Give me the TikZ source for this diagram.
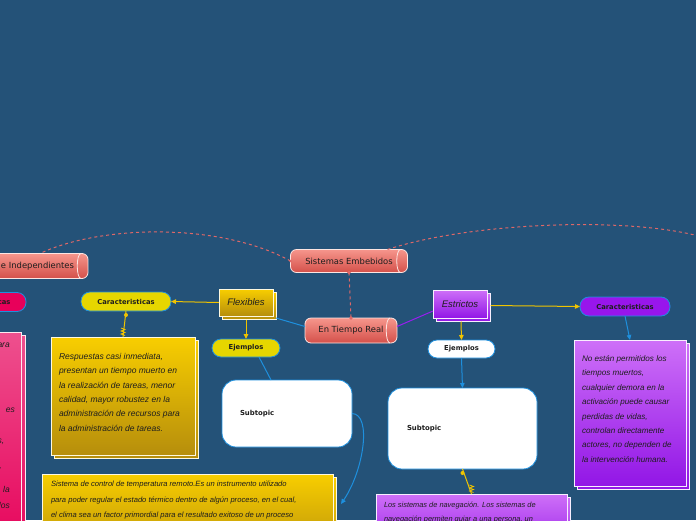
\documentclass[tikz,border=0pt]{standalone}
\usepackage{fontspec}
\setmainfont{DejaVu Sans}
\newfontfamily\hand{Liberation Sans}
\usetikzlibrary{arrows.meta,calc}
\definecolor{bgc}{RGB}{36,82,120}
\definecolor{salT}{RGB}{246,150,140}
\definecolor{salB}{RGB}{212,80,74}
\definecolor{golT}{RGB}{248,206,0}
\definecolor{golB}{RGB}{182,142,12}
\definecolor{purT}{RGB}{206,112,248}
\definecolor{purB}{RGB}{146,22,230}
\definecolor{pinkT}{RGB}{238,80,142}
\definecolor{pinkB}{RGB}{230,0,88}
\definecolor{lblue}{RGB}{30,144,222}
\definecolor{lyel}{RGB}{240,196,0}
\definecolor{lpur}{RGB}{152,30,240}
\definecolor{dsal}{RGB}{222,104,104}
\definecolor{pillY}{RGB}{230,214,0}
\definecolor{pillP}{RGB}{152,22,236}
\definecolor{pillK}{RGB}{232,0,90}
\definecolor{ink}{RGB}{30,30,30}
\newcommand\shad[5]{\path[#1] (#2+3.5,#3+3.5) rectangle (#4+3.5,#5+3.5);}
\begin{document}
\begin{tikzpicture}[x=1pt,y=-1pt,
  every node/.style={inner sep=0pt, outer sep=0pt},
  cyl/.style={draw=white!75!salT, line width=0.8pt, rounded corners=6pt, top color=salT, bottom color=salB, minimum height=23pt, font=\fontsize{8.4}{10}\selectfont, text=ink},
  cylarc/.style={draw=white!75!salT, line width=0.8pt},
  yshad/.style={top color=golT, bottom color=golB, draw=white!88!golT, line width=1pt},
  pshad/.style={top color=purT, bottom color=purB, draw=white!88!purT, line width=1pt},
  kshad/.style={top color=pinkT, bottom color=pinkB, draw=white!88!pinkT, line width=1pt},
  tabtxt/.style={font=\hand\itshape\fontsize{9.5}{11}\selectfont, text=ink},
  pill/.style={draw=lblue, line width=0.8pt, rounded corners=9pt, minimum width=90pt, minimum height=19pt, font=\bfseries\fontsize{6.8}{8}\selectfont, text=ink},
  sub/.style={draw=lblue, line width=0.8pt, fill=white, rounded corners=14pt, font=\bfseries\fontsize{6.9}{8}\selectfont, text=ink, align=left},
  notetxt/.style={font=\hand\itshape\fontsize{8.5}{14.3}\selectfont, align=left, text=ink},
  dsl/.style={draw=dsal, line width=1pt, dash pattern=on 3pt off 3pt},
  yline/.style={draw=lyel, line width=1pt},
  bline/.style={draw=lblue, line width=1pt},
  tip/.style={-{Triangle[length=5pt,width=4.5pt]}}
]
\fill[bgc] (0,0) rectangle (696,520);
\useasboundingbox (0,0) rectangle (696,520);

% ---------- main nodes ----------
\node[cyl, minimum width=117pt] (se) at (349,261) {Sistemas Embebidos};
\node[cyl, anchor=east, text width=118pt, align=right, inner xsep=14pt, minimum height=25pt] (ind) at (88,266) {e Independientes};
\node[cyl, minimum width=92pt, minimum height=25pt] (etr) at (351,330.5) {En Tiempo Real};

\coordinate (rend) at (712,240);

% ---------- connectors (behind) ----------
\draw[dsl] (se.west) .. controls (220,222) and (100,225) .. ($(ind.north east)+(-48,0)$);
\draw[dsl] ($(se.north east)+(-20,0)$) .. controls (470,222) and (640,215) .. (rend);
\draw[dsl] (se.south) -- (etr.north);

\coordinate (flexsw) at (219,289);
\coordinate (estrsw) at (433,290);

% shadows of tab boxes
\shad{yshad}{219}{289}{273}{316}
\shad{pshad}{433}{290}{487}{318}
\node[yshad, tabtxt, anchor=north west, minimum width=54pt, minimum height=27pt] (flex) at (flexsw) {Flexibles};
\node[pshad, tabtxt, anchor=north west, minimum width=54pt, minimum height=28pt] (estr) at (estrsw) {Estrictos};

\node[pill, fill=pillY] (car1) at (126,301.5) {Caracteristicas};
\node[pill, fill=pillP] (car2) at (625,306.5) {Caracteristicas};
\node[pill, fill=pillK, minimum width=66pt] (carK) at (-7,302) {};
\node[font=\bfseries\fontsize{6.8}{8}\selectfont, text=ink, anchor=east] (carKt) at (10.5,302.5) {cas};

\node[pill, fill=pillY, minimum width=68pt, minimum height=18pt] (ej1) at (246,348) {Ejemplos};
\node[pill, fill=white, minimum width=67pt, minimum height=18pt] (ej2) at (461.5,349) {Ejemplos};

\node[sub, minimum width=130pt, minimum height=67pt, text width=94pt, inner xsep=18pt] (sub1) at (287,413.5) {Subtopic};
\node[sub, minimum width=149pt, minimum height=81pt, text width=111pt, inner xsep=19pt] (sub2) at (462.5,428.5) {Subtopic};

% note boxes
\shad{kshad}{-20}{332}{21.5}{560}
\node[kshad, anchor=north west, minimum width=41.5pt, minimum height=228pt] (knote) at (-20,332) {};
\shad{yshad}{51}{337}{195}{455}
\node[yshad, anchor=north west, minimum width=144pt, minimum height=118pt] (ynote) at (51,337) {};
\shad{pshad}{574}{340}{686}{486}
\node[pshad, anchor=north west, minimum width=112pt, minimum height=146pt] (pnote) at (574,340) {};
\shad{yshad}{42}{474}{333}{560}
\node[yshad, anchor=north west, minimum width=291pt, minimum height=86pt] (bigy) at (42,474) {};
\shad{pshad}{376}{494}{567}{560}
\node[pshad, anchor=north west, minimum width=191pt, minimum height=66pt] (pbot) at (376,494) {};

% ---------- connectors ----------
\draw[bline] ($(flex.south east)+(3,2)$) -- ($(etr.west)+(0,-4)$);
\draw[draw=lpur, line width=1pt] ($(etr.east)+(0,-4)$) -- ($(estr.west)!0.5!(estr.south west)$);
\draw[yline, tip] (flex.west) -- (car1.east);
\draw[yline, tip] ($(flex.south)+(0,3.5)$) -- (ej1.north);
\draw[yline, tip] ($(estr.east)+(3.5,1.5)$) -- (car2.west);
\draw[yline, tip] ($(estr.south)+(1,3.5)$) -- (ej2.north);
\draw[bline, tip] (car2.south) -- (pnote.north);
\draw[bline, tip] (ej2.south) -- (sub2.north);
\draw[bline] ($(ej1.south)+(13,0)$) -- ($(sub1.north)+(-16,0)$);
\coordinate (tipA) at (341,504);
\draw[bline, tip] (sub1.east) .. controls (372,414) and (364,470) .. (tipA);
\draw[yline] (car1.south) -- (ynote.north);
\draw[yline] (sub2.south) -- (pbot.north);

% small end marks
\fill[dsal] (se.south) circle (1.8);
\fill[dsal] (etr.north) circle (1.8);
\fill[dsal] (se.west) circle (1.3);
\fill[lyel] ($(car1.south)+(0,4)$) circle (2);
\fill[lyel] ($(sub2.south)+(0,4)$) circle (2);
\draw[lyel, line width=0.8pt] ($(ynote.north)+(-2,-9)$) -- ++(4,1.5) -- ++(-4,1.5) -- ++(4,1.5) -- ++(-4,1.5) -- ++(4,1.5);
\draw[lyel, line width=0.8pt] ($(pbot.north)+(-2,-9)$) -- ++(4,1.5) -- ++(-4,1.5) -- ++(4,1.5) -- ++(-4,1.5) -- ++(4,1.5);

% cylinder end arcs
\foreach \n in {se,ind,etr}{
  \draw[cylarc] ([xshift=-7pt]\n.north east) .. controls ([xshift=-12pt]\n.north east) and ([xshift=-12pt]\n.south east) .. ([xshift=-7pt]\n.south east);
}

% ---------- texts ----------
\node[notetxt, anchor=north west] (ynotet) at (59,353.5) {Respuestas casi inmediata,\\presentan un tiempo muerto en\\la realización de tareas, menor\\calidad, mayor robustez en la\\administración de recursos para\\la administración de tareas.};
\node[notetxt, font=\hand\itshape\fontsize{8.1}{14.4}\selectfont, anchor=north west] (pnotet) at (582,355.5) {No están permitidos los\\tiempos muertos,\\cualquier demora en la\\activación puede causar\\perdidas de vidas,\\controlan directamente\\actores, no dependen de\\la intervención humana.};
\node[notetxt, font=\hand\itshape\fontsize{7.6}{15.5}\selectfont, anchor=north west] (bigyt) at (51,481) {Sistema de control de temperatura remoto.Es un instrumento utilizado\\para poder regular el estado térmico dentro de algún proceso, en el cual,\\el clima sea un factor primordial para el resultado exitoso de un proceso};
\node[notetxt, font=\hand\itshape\fontsize{7.4}{13.5}\selectfont, anchor=north west] (pbott) at (384,502.5) {Los sistemas de navegación. Los sistemas de\\navegación permiten guiar a una persona, un};
\begin{scope}[every node/.style={notetxt, anchor=east, inner sep=0pt}]
\node (k1) at (10,345) {ara};
\node (k2) at (15,410) {es};
\node (k3) at (4.5,442) {s,};
\node (k4) at (2,469) {,};
\node (k5) at (10,489) {la};
\node (k6) at (10,505) {los};
\end{scope}
\end{tikzpicture}
\end{document}
